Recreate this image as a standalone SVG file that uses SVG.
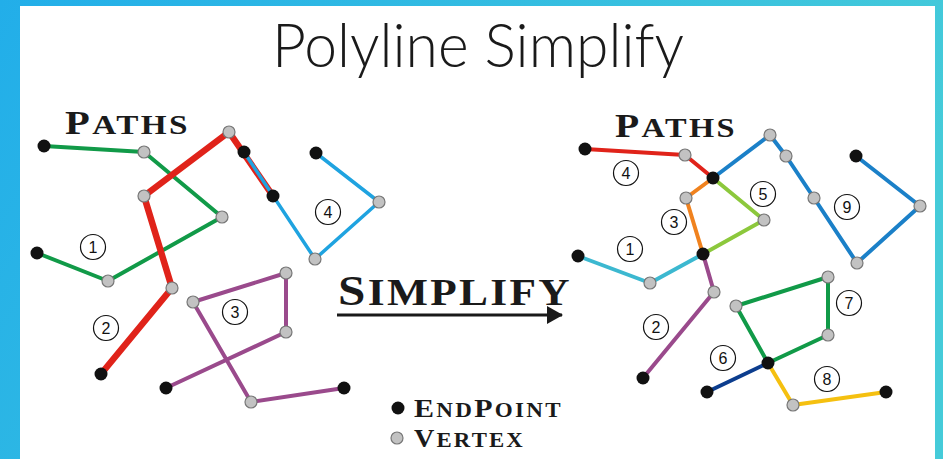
<svg xmlns="http://www.w3.org/2000/svg" width="943" height="459" viewBox="0 0 943 459">
<defs>
<linearGradient id="bg" x1="0" y1="0" x2="1" y2="0.3">
<stop offset="0" stop-color="#22aee9"/>
<stop offset="1" stop-color="#45cbd9"/>
</linearGradient>
<marker id="ah" viewBox="0 0 16 18" refX="15" refY="9" markerWidth="16" markerHeight="18" markerUnits="userSpaceOnUse" orient="auto">
<path d="M0,0 L16,9 L0,18 Z" fill="#1a1a1a"/>
</marker>
</defs>
<style>
.ln{fill:none;stroke-linejoin:round;stroke-linecap:round}
.e{fill:#111}
.v{fill:#c2c2c2;stroke:#777;stroke-width:1.2}
.lb circle{fill:#fff;stroke:#111;stroke-width:1.2}
.lb text{font-family:"Liberation Sans",Arial,sans-serif;font-size:16px;fill:#111;text-anchor:middle}
.cp{font-family:"Liberation Serif","Times New Roman",serif;font-weight:bold;fill:#1a1a1a;letter-spacing:2px}
</style>
<rect x="0" y="0" width="943" height="459" fill="url(#bg)"/>
<rect x="20" y="6" width="915" height="453" fill="#fff"/>

<g id="title">
<text x="272" y="67" textLength="412" lengthAdjust="spacingAndGlyphs" font-family="Lato, 'Open Sans', sans-serif" font-weight="300" font-size="62" fill="#1a1a1a">Polyline Simplify</text>
</g>

<g id="texts">
<text class="cp" x="65" y="134" textLength="125" lengthAdjust="spacingAndGlyphs"><tspan font-size="33">P</tspan><tspan font-size="27">ATHS</tspan></text>
<text class="cp" x="615" y="137" textLength="122" lengthAdjust="spacingAndGlyphs"><tspan font-size="33">P</tspan><tspan font-size="27">ATHS</tspan></text>
<text class="cp" x="338" y="305" textLength="234" lengthAdjust="spacingAndGlyphs"><tspan font-size="42">S</tspan><tspan font-size="37">IMPLIFY</tspan></text>
<text class="cp" x="414" y="417" textLength="149" lengthAdjust="spacingAndGlyphs"><tspan font-size="26">E</tspan><tspan font-size="20">ND</tspan><tspan font-size="26">P</tspan><tspan font-size="20">OINT</tspan></text>
<text class="cp" x="414" y="447" textLength="111" lengthAdjust="spacingAndGlyphs"><tspan font-size="26">V</tspan><tspan font-size="21">ERTEX</tspan></text>
</g>

<g id="connectors">
<polyline class="ln" stroke="#119a48" stroke-width="4" points="44,146 144,152 222,217 108,281 37,253"/>
<polyline class="ln" stroke="#e0231a" stroke-width="6.5" points="101,374 172,288 144,196 229,132 273,196"/>
<polyline class="ln" stroke="#1fa3e0" stroke-width="3.5" points="244,152 315,259 379,202 316,153"/>
<polyline class="ln" stroke="#9a4a8c" stroke-width="4" points="166,388 286,332 286,273 193,302 251,402 344,388"/>
<line x1="337" y1="315" x2="562" y2="315" stroke="#1a1a1a" stroke-width="3" marker-end="url(#ah)"/>

<polyline class="ln" stroke="#e0231a" stroke-width="4" points="585,149 685,155 713,178"/>
<polyline class="ln" stroke="#1b80c8" stroke-width="4" points="713,178 770,135 786,156 814,198 857,263 920,206 856,156"/>
<polyline class="ln" stroke="#f0821e" stroke-width="4" points="713,178 686,198 703,254"/>
<polyline class="ln" stroke="#8cc83c" stroke-width="4" points="713,178 764,220 703,254"/>
<polyline class="ln" stroke="#3cb8d0" stroke-width="4" points="578,256 650,283 703,254"/>
<polyline class="ln" stroke="#9a4a8c" stroke-width="4" points="703,254 714,292 643,378"/>
<polyline class="ln" stroke="#119a48" stroke-width="4" points="768,363 736,306 828,277 828,335 768,363"/>
<polyline class="ln" stroke="#0c3d8e" stroke-width="4" points="707,392 768,363"/>
<polyline class="ln" stroke="#f5c010" stroke-width="4" points="768,363 793,405 886,392"/>
</g>

<g id="labels" class="lb">
<g id="lab-l1"><circle cx="93" cy="247" r="12.5"/><text x="93" y="253">1</text></g>
<g id="lab-l2"><circle cx="106" cy="328" r="12.5"/><text x="106" y="334">2</text></g>
<g id="lab-l3"><circle cx="235" cy="312" r="12.5"/><text x="235" y="318">3</text></g>
<g id="lab-l4"><circle cx="328" cy="212" r="12.5"/><text x="328" y="218">4</text></g>
<g id="lab-r1"><circle cx="630" cy="249" r="12.5"/><text x="630" y="255">1</text></g>
<g id="lab-r2"><circle cx="656" cy="327" r="12.5"/><text x="656" y="333">2</text></g>
<g id="lab-r3"><circle cx="674" cy="222" r="12.5"/><text x="674" y="228">3</text></g>
<g id="lab-r4"><circle cx="626" cy="173" r="12.5"/><text x="626" y="179">4</text></g>
<g id="lab-r5"><circle cx="763" cy="194" r="12.5"/><text x="763" y="200">5</text></g>
<g id="lab-r6"><circle cx="723" cy="358" r="12.5"/><text x="723" y="364">6</text></g>
<g id="lab-r7"><circle cx="849" cy="303" r="12.5"/><text x="849" y="309">7</text></g>
<g id="lab-r8"><circle cx="827" cy="379" r="12.5"/><text x="827" y="385">8</text></g>
<g id="lab-r9"><circle cx="847" cy="207" r="12.5"/><text x="847" y="213">9</text></g>
</g>

<g id="n-l1"><circle class="e" cx="44" cy="146" r="6.5"/></g>
<g id="n-l2"><circle class="v" cx="144" cy="152" r="6"/></g>
<g id="n-l3"><circle class="v" cx="222" cy="217" r="6"/></g>
<g id="n-l4"><circle class="v" cx="108" cy="281" r="6"/></g>
<g id="n-l5"><circle class="e" cx="37" cy="253" r="6.5"/></g>
<g id="n-l6"><circle class="e" cx="101" cy="374" r="6.5"/></g>
<g id="n-l7"><circle class="v" cx="172" cy="288" r="6"/></g>
<g id="n-l8"><circle class="v" cx="144" cy="196" r="6"/></g>
<g id="n-l9"><circle class="v" cx="229" cy="132" r="6"/></g>
<g id="n-l10"><circle class="e" cx="273" cy="196" r="6.5"/></g>
<g id="n-l11"><circle class="e" cx="244" cy="152" r="6.5"/></g>
<g id="n-l12"><circle class="v" cx="315" cy="259" r="6"/></g>
<g id="n-l13"><circle class="v" cx="379" cy="202" r="6"/></g>
<g id="n-l14"><circle class="e" cx="316" cy="153" r="6.5"/></g>
<g id="n-l15"><circle class="e" cx="166" cy="388" r="6.5"/></g>
<g id="n-l16"><circle class="v" cx="286" cy="332" r="6"/></g>
<g id="n-l17"><circle class="v" cx="286" cy="273" r="6"/></g>
<g id="n-l18"><circle class="v" cx="193" cy="302" r="6"/></g>
<g id="n-l19"><circle class="v" cx="251" cy="402" r="6"/></g>
<g id="n-l20"><circle class="e" cx="344" cy="388" r="6.5"/></g>

<g id="legend-e"><circle class="e" cx="398" cy="408" r="6.5"/></g>
<g id="legend-v"><circle class="v" cx="397" cy="438" r="6"/></g>

<g id="n-r1"><circle class="e" cx="585" cy="149" r="6.5"/></g>
<g id="n-r2"><circle class="v" cx="685" cy="155" r="6"/></g>
<g id="n-r3"><circle class="e" cx="713" cy="178" r="6.5"/></g>
<g id="n-r4"><circle class="v" cx="770" cy="135" r="6"/></g>
<g id="n-r5"><circle class="v" cx="786" cy="156" r="6"/></g>
<g id="n-r6"><circle class="v" cx="814" cy="198" r="6"/></g>
<g id="n-r7"><circle class="v" cx="857" cy="263" r="6"/></g>
<g id="n-r8"><circle class="v" cx="920" cy="206" r="6"/></g>
<g id="n-r9"><circle class="e" cx="856" cy="156" r="6.5"/></g>
<g id="n-r10"><circle class="v" cx="686" cy="198" r="6"/></g>
<g id="n-r11"><circle class="v" cx="764" cy="220" r="6"/></g>
<g id="n-r12"><circle class="e" cx="703" cy="254" r="6.5"/></g>
<g id="n-r13"><circle class="e" cx="578" cy="256" r="6.5"/></g>
<g id="n-r14"><circle class="v" cx="650" cy="283" r="6"/></g>
<g id="n-r15"><circle class="v" cx="714" cy="292" r="6"/></g>
<g id="n-r16"><circle class="e" cx="643" cy="378" r="6.5"/></g>
<g id="n-r17"><circle class="v" cx="736" cy="306" r="6"/></g>
<g id="n-r18"><circle class="v" cx="828" cy="277" r="6"/></g>
<g id="n-r19"><circle class="v" cx="828" cy="335" r="6"/></g>
<g id="n-r20"><circle class="e" cx="768" cy="363" r="6.5"/></g>
<g id="n-r21"><circle class="e" cx="707" cy="392" r="6.5"/></g>
<g id="n-r22"><circle class="v" cx="793" cy="405" r="6"/></g>
<g id="n-r23"><circle class="e" cx="886" cy="392" r="6.5"/></g>
</svg>
